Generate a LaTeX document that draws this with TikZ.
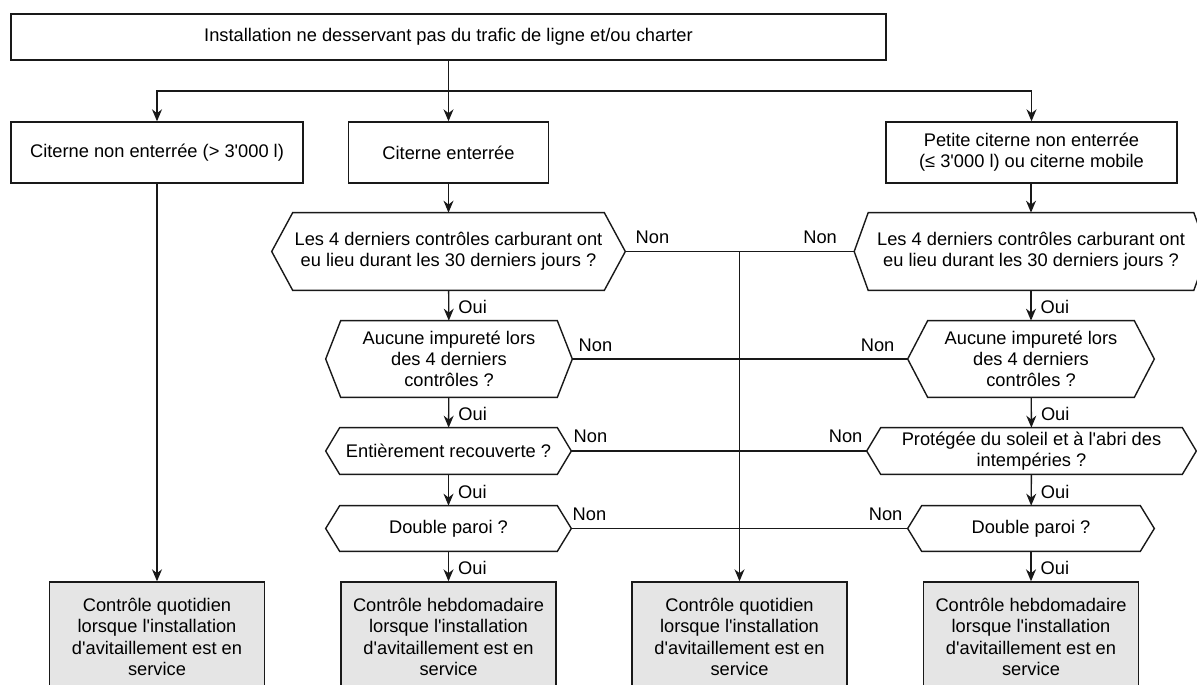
\documentclass[tikz,border=0pt]{standalone}
\usepackage{fontspec}
\setmainfont{Liberation Sans}[Ligatures=TeXOff]
\usetikzlibrary{arrows.meta, calc}

\begin{document}
\begin{tikzpicture}[
  x=0.02cm, y=-0.02cm,
  font=\fontsize{10.4}{12.1}\selectfont,
  ln/.style={draw=black!90, line width=0.8pt},
  box/.style={ln, align=center, inner sep=2pt},
  hexa/.style={align=center, inner sep=2pt},
  result/.style={box, fill=black!10, minimum width=4.3cm, minimum height=2.2cm},
  lbl/.style={inner sep=0pt},
  oui/.style={lbl, pos=0.55, anchor=west, xshift=0.18cm},
  arr/.style={ln, -{Stealth[length=0.24cm, width=0.2cm]}},
]
\clip (0,0) rectangle (1197,684);

% top level
\node[box, minimum width=17.5cm, minimum height=0.92cm] (top) at (448.5,37)
  {Installation ne desservant pas du trafic de ligne et/ou charter};
\node[box, minimum width=5.84cm, minimum height=1.22cm] (box1) at (157,152.5)
  {Citerne non enterrée (> 3'000 l)};
\node[box, minimum width=4cm, minimum height=1.22cm] (box2) at (448.5,152.5)
  {Citerne enterrée};
\node[box, minimum width=5.82cm, minimum height=1.22cm] (box3) at (1031.5,152.5)
  {Petite citerne non enterrée\\(≤ 3'000 l) ou citerne mobile};

% questions, left and right
\node[hexa, minimum width=7.06cm, minimum height=1.54cm] (hL1) at (448.5,251.5)
  {Les 4 derniers contrôles carburant ont\\eu lieu durant les 30 derniers jours ?};
\node[hexa, minimum width=7.06cm, minimum height=1.54cm] (hR1) at (1031,251.5)
  {Les 4 derniers contrôles carburant ont\\eu lieu durant les 30 derniers jours ?};
\node[hexa, minimum width=4.92cm, minimum height=1.52cm] (hL2) at (449,359)
  {Aucune impureté lors\\des 4 derniers\\contrôles ?};
\node[hexa, minimum width=4.92cm, minimum height=1.52cm] (hR2) at (1031,359)
  {Aucune impureté lors\\des 4 derniers\\contrôles ?};
\node[hexa, minimum width=4.9cm, minimum height=0.92cm] (hL3) at (448.5,451)
  {Entièrement recouverte ?};
\node[hexa, minimum width=6.58cm, minimum height=0.92cm] (hR3) at (1031.5,451)
  {Protégée du soleil et à l'abri des\\intempéries ?};
\node[hexa, minimum width=4.9cm, minimum height=0.9cm] (hL4) at (448.5,528.5)
  {Double paroi ?};
\node[hexa, minimum width=4.92cm, minimum height=0.9cm] (hR4) at (1031,528.5)
  {Double paroi ?};

\foreach \h/\d in {hL1/21, hR1/14, hL2/15, hR2/20, hL3/14, hR3/14, hL4/14, hR4/14}
  \draw[ln] (\h.west) -- ($(\h.north west)+(\d,0)$) -- ($(\h.north east)+(-\d,0)$)
    -- (\h.east) -- ($(\h.south east)+(-\d,0)$) -- ($(\h.south west)+(\d,0)$) -- cycle;

% results
\node[result] (res1) at (157,637)
  {Contrôle quotidien\\lorsque l'installation\\d'avitaillement est en\\service};
\node[result] (res2) at (448.5,637)
  {Contrôle hebdomadaire\\lorsque l'installation\\d'avitaillement est en\\service};
\node[result] (res3) at (739.5,637)
  {Contrôle quotidien\\lorsque l'installation\\d'avitaillement est en\\service};
\node[result] (res4) at (1031,637)
  {Contrôle hebdomadaire\\lorsque l'installation\\d'avitaillement est en\\service};

% connectors
\coordinate (split) at (448.5,91);
\draw[arr] (top) -- (box2);
\draw[arr] (split) -| (box1);
\draw[arr] (split) -| (box3);
\draw[arr] (box1) -- (res1);
\draw[arr] (box2) -- (hL1);
\draw[arr] (hR1.north |- box3.south) -- (hR1.north);

\draw[arr] (hL1) -- (hL2) node[oui] (oL1) {Oui};
\draw[arr] (hL2) -- (hL3) node[oui] (oL2) {Oui};
\draw[arr] (hL3) -- (hL4) node[oui] (oL3) {Oui};
\draw[arr] (hL4) -- (res2) node[oui] (oL4) {Oui};
\draw[arr] (hR1) -- (hR2) node[oui] (oR1) {Oui};
\draw[arr] (hR2) -- (hR3) node[oui] (oR2) {Oui};
\draw[arr] (hR3) -- (hR4) node[oui] (oR3) {Oui};
\draw[arr] (hR4) -- (res4) node[oui] (oR4) {Oui};

\draw[ln] (hL1) -- (hR1);
\draw[ln] (hL2) -- (hR2);
\draw[ln] (hL3) -- (hR3);
\draw[ln] (hL4) -- (hR4);
\coordinate (merge) at (res3.north |- hL1.east);
\draw[arr] (merge) -- (res3);

% Non labels
\node[lbl, anchor=west] (nL1) at ($(hL1.east)+(10,-14)$) {Non};
\node[lbl, anchor=west] (nL2) at ($(hL2.east)+(6,-14)$) {Non};
\node[lbl, anchor=west] (nL3) at ($(hL3.east)+(2,-15)$) {Non};
\node[lbl, anchor=west] (nL4) at ($(hL4.east)+(1,-14)$) {Non};
\node[lbl, anchor=east] (nR1) at ($(hR1.west)+(-17,-14)$) {Non};
\node[lbl, anchor=east] (nR2) at ($(hR2.west)+(-13,-14)$) {Non};
\node[lbl, anchor=east] (nR3) at ($(hR3.west)+(-4,-15)$) {Non};
\node[lbl, anchor=east] (nR4) at ($(hR4.west)+(-5,-14)$) {Non};

\end{tikzpicture}
\end{document}
